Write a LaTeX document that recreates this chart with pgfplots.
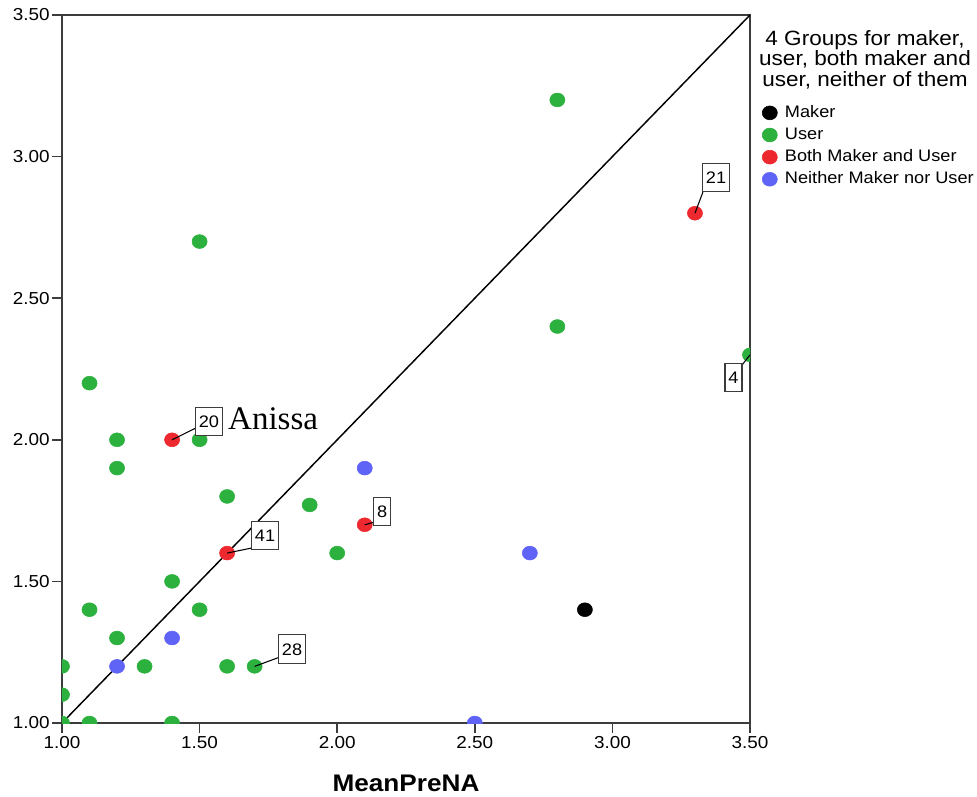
\documentclass[border=0pt]{standalone}
\usepackage{fontspec}
\setmainfont{Liberation Sans}[FakeStretch=1.09]
\newfontfamily\serifnote{Liberation Serif}
\usepackage{pgfplots}
\pgfplotsset{compat=1.18}
\definecolor{spssgreen}{RGB}{44,177,62}
\definecolor{spssred}{RGB}{237,40,46}
\definecolor{spssblue}{RGB}{95,99,246}
\definecolor{axisgray}{RGB}{60,60,60}
\begin{document}
\begin{tikzpicture}[x=1pt,y=1pt]
\path[use as bounding box] (-46.5,-54.75) rectangle (686.25,542.25);
\begin{axis}[
  at={(0,0)}, anchor=south west,
  scale only axis, width=516pt, height=531pt,
  xmin=1, xmax=3.5, ymin=1, ymax=3.5,
  xtick={1,1.5,2,2.5,3,3.5}, ytick={1,1.5,2,2.5,3,3.5},
  tick align=outside, xtick pos=bottom, ytick pos=left,
  major tick length=7.5pt,
  axis line style={axisgray, line width=1.3pt},
  every tick/.style={axisgray, line width=1.3pt},
  /pgf/number format/assume math mode=true,
  xticklabel style={font=\fontsize{13}{15}\selectfont, inner sep=2.5pt, /pgf/number format/fixed, /pgf/number format/fixed zerofill, /pgf/number format/precision=2},
  yticklabel style={font=\fontsize{13}{15}\selectfont, inner sep=1.5pt, /pgf/number format/fixed, /pgf/number format/fixed zerofill, /pgf/number format/precision=2},
  xlabel={MeanPreNA},
  xlabel style={font=\fontsize{18}{20}\selectfont\bfseries, at={(axis description cs:0.5,0)}, anchor=base, yshift=-51pt, inner sep=0pt},
  clip marker paths=true,
  legend style={draw=none, fill=none, at={(1.0174,0.8757)}, anchor=north west,
    font=\fontsize{12.5}{14}\selectfont, row sep=2.2pt, inner sep=0pt,
    nodes={inner sep=1.2pt, text height=9.5pt, text depth=2.5pt},
    /tikz/every odd column/.append style={column sep=4.5pt}},
  legend cell align=left,
  legend image code/.code={\draw[#1] plot coordinates {(0pt,0pt)};},
]
\addplot[black, line width=1.1pt, forget plot] coordinates {(1,1) (3.5,3.5)};

\addplot[only marks, mark=*, mark size=5.2pt, mark options={xscale=1.09, draw=black, fill=black}]
  coordinates {(2.9,1.4)};
\addlegendentry{Maker}

\addplot[only marks, mark=*, mark size=5.2pt, mark options={xscale=1.09, draw=spssgreen, fill=spssgreen}]
  coordinates {
  (1.0,1.0) (1.0,1.1) (1.0,1.2) (1.1,1.0) (1.1,1.4) (1.2,1.3) (1.3,1.2)
  (1.4,1.0) (1.4,1.5) (1.5,1.4) (1.6,1.2) (1.7,1.2) (1.2,1.9) (1.2,2.0)
  (1.1,2.2) (1.5,2.0) (1.5,2.7) (1.6,1.8) (1.9,1.77) (2.0,1.6) (2.8,2.4)
  (2.8,3.2) (3.5,2.3)};
\addlegendentry{User}

\addplot[only marks, mark=*, mark size=5.2pt, mark options={xscale=1.09, draw=spssred, fill=spssred}]
  coordinates {(1.4,2.0) (1.6,1.6) (2.1,1.7) (3.3,2.8)};
\addlegendentry{Both Maker and User}

\addplot[only marks, mark=*, mark size=5.2pt, mark options={xscale=1.09, draw=spssblue, fill=spssblue}]
  coordinates {(1.2,1.2) (1.4,1.3) (2.1,1.9) (2.7,1.6) (2.5,1.0)};
\addlegendentry{Neither Maker nor User}

% case labels
\tikzset{caselabel/.style={draw=axisgray, line width=0.8pt, fill=white, font=\fontsize{12.5}{14}\selectfont, inner xsep=2.6pt, minimum height=21.5pt, text height=9pt, text depth=0pt}}
\draw[black, line width=0.8pt] (axis cs:1.4,2.0) -- (axis cs:1.487,2.042);
\node[caselabel] at (axis cs:1.534,2.065) {20};
\draw[black, line width=0.8pt] (axis cs:1.6,1.6) -- (axis cs:1.690,1.618);
\node[caselabel] at (axis cs:1.738,1.662) {41};
\draw[black, line width=0.8pt] (axis cs:2.1,1.7) -- (axis cs:2.149,1.713);
\node[caselabel] at (axis cs:2.163,1.747) {8};
\draw[black, line width=0.8pt] (axis cs:3.3,2.8) -- (axis cs:3.329,2.875);
\node[caselabel] at (axis cs:3.3765,2.926) {21};
\draw[black, line width=0.8pt] (axis cs:3.5,2.3) -- (axis cs:3.471,2.264);
\node[caselabel] at (axis cs:3.440,2.220) {4};
\draw[black, line width=0.8pt] (axis cs:1.7,1.2) -- (axis cs:1.792,1.233);
\node[caselabel] at (axis cs:1.836,1.261) {28};

\node[anchor=base west, inner sep=0pt, font=\serifnote\fontsize{24.75}{26}\selectfont] at (axis cs:1.603,2.035) {Anissa};
\end{axis}
\node[align=center, font=\fontsize{15.5}{15.5}\selectfont] at (602.25,497.5) {4 Groups for maker,\\ user, both maker and\\ user, neither of them};
\end{tikzpicture}
\end{document}
